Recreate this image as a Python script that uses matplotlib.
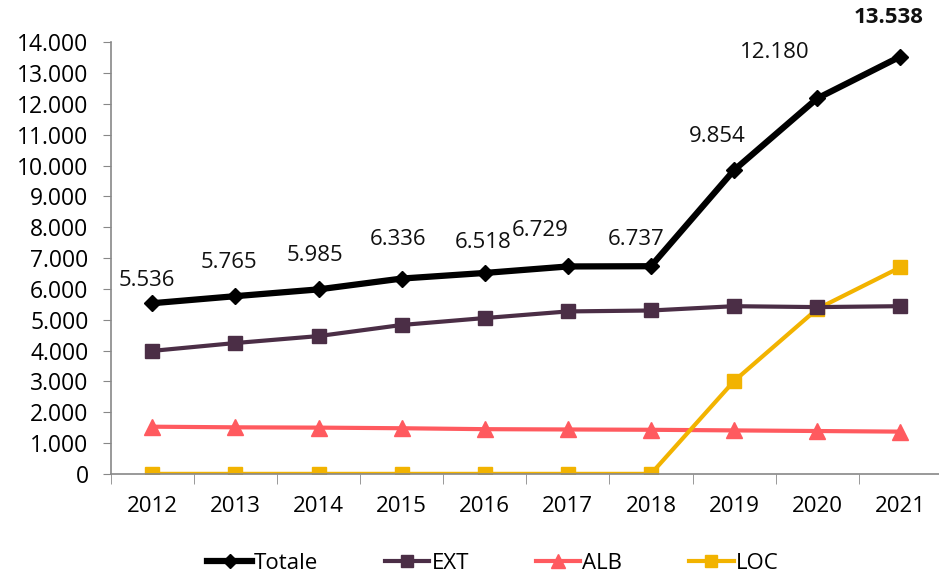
import matplotlib.pyplot as plt
import numpy as np
from matplotlib.ticker import FuncFormatter, FixedLocator

plt.rcParams['font.family'] = ['Open Sans', 'DejaVu Sans']

years = ["2012", "2013", "2014", "2015", "2016", "2017", "2018", "2019", "2020", "2021"]
totale = [5536, 5765, 5985, 6336, 6518, 6729, 6737, 9854, 12180, 13538]
ext = [3990, 4245, 4470, 4830, 5055, 5270, 5300, 5440, 5410, 5440]
alb = [1530, 1510, 1500, 1480, 1450, 1440, 1430, 1410, 1390, 1370]
loc = [0, 0, 0, 0, 0, 0, 0, 3010, 5350, 6700]

# label offsets in pixels (dx, dy) relative to the point
label_off = [(-5, 23), (-7, 34), (-4, 34), (-4, 39), (-2, 30),
             (-28, 36), (-15, 27), (-17, 34), (-42, 46), (-12, 39)]

fig = plt.figure(figsize=(9.39, 5.80), dpi=100)
ax = fig.add_axes([0.118, 0.183, 0.885, 0.744])
x = np.arange(len(years))

ax.plot(x, totale, color="black", lw=4.5, marker="D", ms=8, label="Totale", zorder=5)
ax.plot(x, ext, color="#4B2E46", lw=3, marker="s", ms=10, label="EXT", zorder=4)
ax.plot(x, alb, color="#FF5A5F", lw=3, marker="^", ms=11, label="ALB", zorder=3)
ax.plot(x, loc, color="#F2B300", lw=3, marker="s", ms=10, label="LOC", zorder=3)

for i, v in enumerate(totale):
    s = f"{v:,}".replace(",", ".")
    dx, dy = label_off[i]
    bold = i == len(totale) - 1
    ax.annotate(s, (x[i], v), xytext=(dx * 0.72, dy * 0.72), textcoords="offset points",
                ha="center", va="center", fontsize=16,
                fontweight="bold" if bold else "normal", color="#111111")

ax.set_xlim(-0.5, 9.5)
ax.set_ylim(0, 14000)
ax.set_yticks(np.arange(0, 14001, 1000))
ax.yaxis.set_major_formatter(FuncFormatter(lambda v, p: f"{int(v):,}".replace(",", ".")))
ax.set_xticks(x)
ax.set_xticklabels(years)
ax.xaxis.set_minor_locator(FixedLocator(np.arange(-0.5, 10, 1)))
ax.tick_params(axis="x", which="major", length=0, pad=16, labelsize=16)
ax.tick_params(axis="x", which="minor", length=7, color="#888888", direction="out")
ax.tick_params(axis="y", length=6, color="#888888", labelsize=16.5, pad=10)
for s in ["top", "right"]:
    ax.spines[s].set_visible(False)
for s in ["left", "bottom"]:
    ax.spines[s].set_color("#888888")
    ax.spines[s].set_linewidth(1.2)
ax.spines["bottom"].set_zorder(6)

handles, labels = ax.get_legend_handles_labels()
fig.legend(handles, labels, loc="center", bbox_to_anchor=(0.525, 0.028), ncol=4,
           frameon=False, fontsize=16, handlelength=2.0, handletextpad=0.1,
           columnspacing=3.0, markerscale=0.9)

fig.savefig("out.png", dpi=100)
